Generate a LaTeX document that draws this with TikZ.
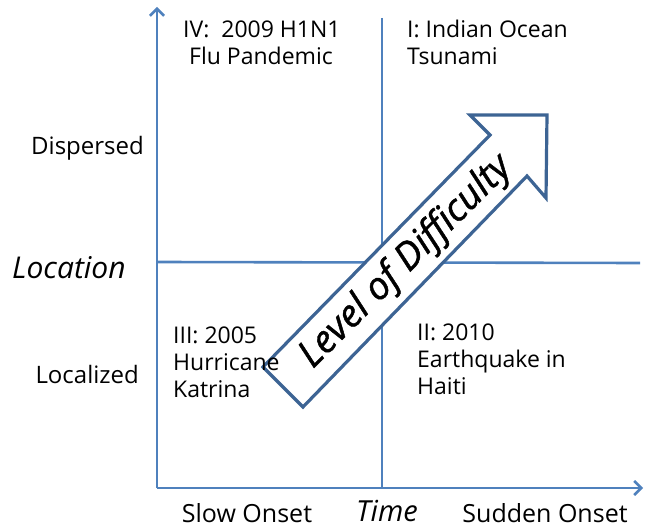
\documentclass[tikz,border=0pt]{standalone}
\usepackage{fontspec}
\setmainfont{Open Sans}
\newfontfamily\lodfont[FakeBold=1.2]{Open Sans}
\usetikzlibrary{arrows.meta}
\definecolor{axisblue}{HTML}{4F81BD}
\definecolor{arrowblue}{HTML}{3D6494}
\tikzset{
  axisline/.style={draw=axisblue, line width=2.6pt},
  axisarrow/.style={axisline, -{Straight Barb[length=7pt,width=14pt,line width=2.6pt]}},
  bigarrow/.style={draw=arrowblue, fill=white, line width=3.2pt, line join=miter},
  lbl/.style={inner sep=0pt, font=\fontsize{24}{27}\selectfont, text=black},
  ital/.style={lbl, font=\fontsize{30}{33}\selectfont\itshape},
  quad/.style={lbl, font=\fontsize{23}{27}\selectfont, align=left, anchor=base west},
}
\begin{document}
\begin{tikzpicture}[x=1pt,y=-1pt]
\useasboundingbox (0,0) rectangle (645,529);
\coordinate (O) at (157,488);
\coordinate (ytop) at (157,7);
\coordinate (xend) at (643,488);
\coordinate (vt) at (382,18);
\coordinate (vb) at (382,488);
\coordinate (hl) at (157,262);
\coordinate (hr) at (640,263);
\draw[axisline] (vt) -- (vb);
\draw[axisline] (hl) -- (hr);
\draw[axisarrow] (O) -- (ytop);
\draw[axisarrow] (O) -- (xend);
% big arrow
\coordinate (a1) at (263,367);
\coordinate (a2) at (490,135);
\coordinate (a3) at (470,115);
\coordinate (a4) at (547,115);
\coordinate (a5) at (546,198);
\coordinate (a6) at (527,176);
\coordinate (a7) at (303,407);
\draw[bigarrow] (a1) -- (a2) -- (a3) -- (a4) -- (a5) -- (a6) -- (a7) -- cycle;
\node[inner sep=0pt, rotate=45, font=\fontsize{38}{40}\selectfont\lodfont\itshape] (lod) at (406,262) {Level of Difficulty};
% quadrant labels (anchored at baseline of last line)
\node[quad] (q4) at (183,65) {IV:\ \ 2009 H1N1\\\ Flu Pandemic};
\node[quad] (q1) at (407,65) {I: Indian Ocean\\Tsunami};
\node[quad] (q3) at (173,397) {III: 2005\\Hurricane\\Katrina};
\node[quad] (q2) at (417,394) {II: 2010\\Earthquake in\\Haiti};
% axis labels
\node[lbl, anchor=base east] (disp) at (144,155) {Dispersed};
\node[lbl, anchor=base east] (loc) at (139,383) {Localized};
\node[ital, anchor=base west] (locn) at (12,279) {Location};
\node[lbl, font=\fontsize{25}{27}\selectfont, anchor=base] (slow) at (247,522) {Slow Onset};
\node[ital, font=\fontsize{29}{30}\selectfont\itshape, anchor=base] (time) at (387,521) {Time};
\node[lbl, font=\fontsize{25}{27}\selectfont, anchor=base] (sudden) at (545,522) {Sudden Onset};
\end{tikzpicture}
\end{document}
